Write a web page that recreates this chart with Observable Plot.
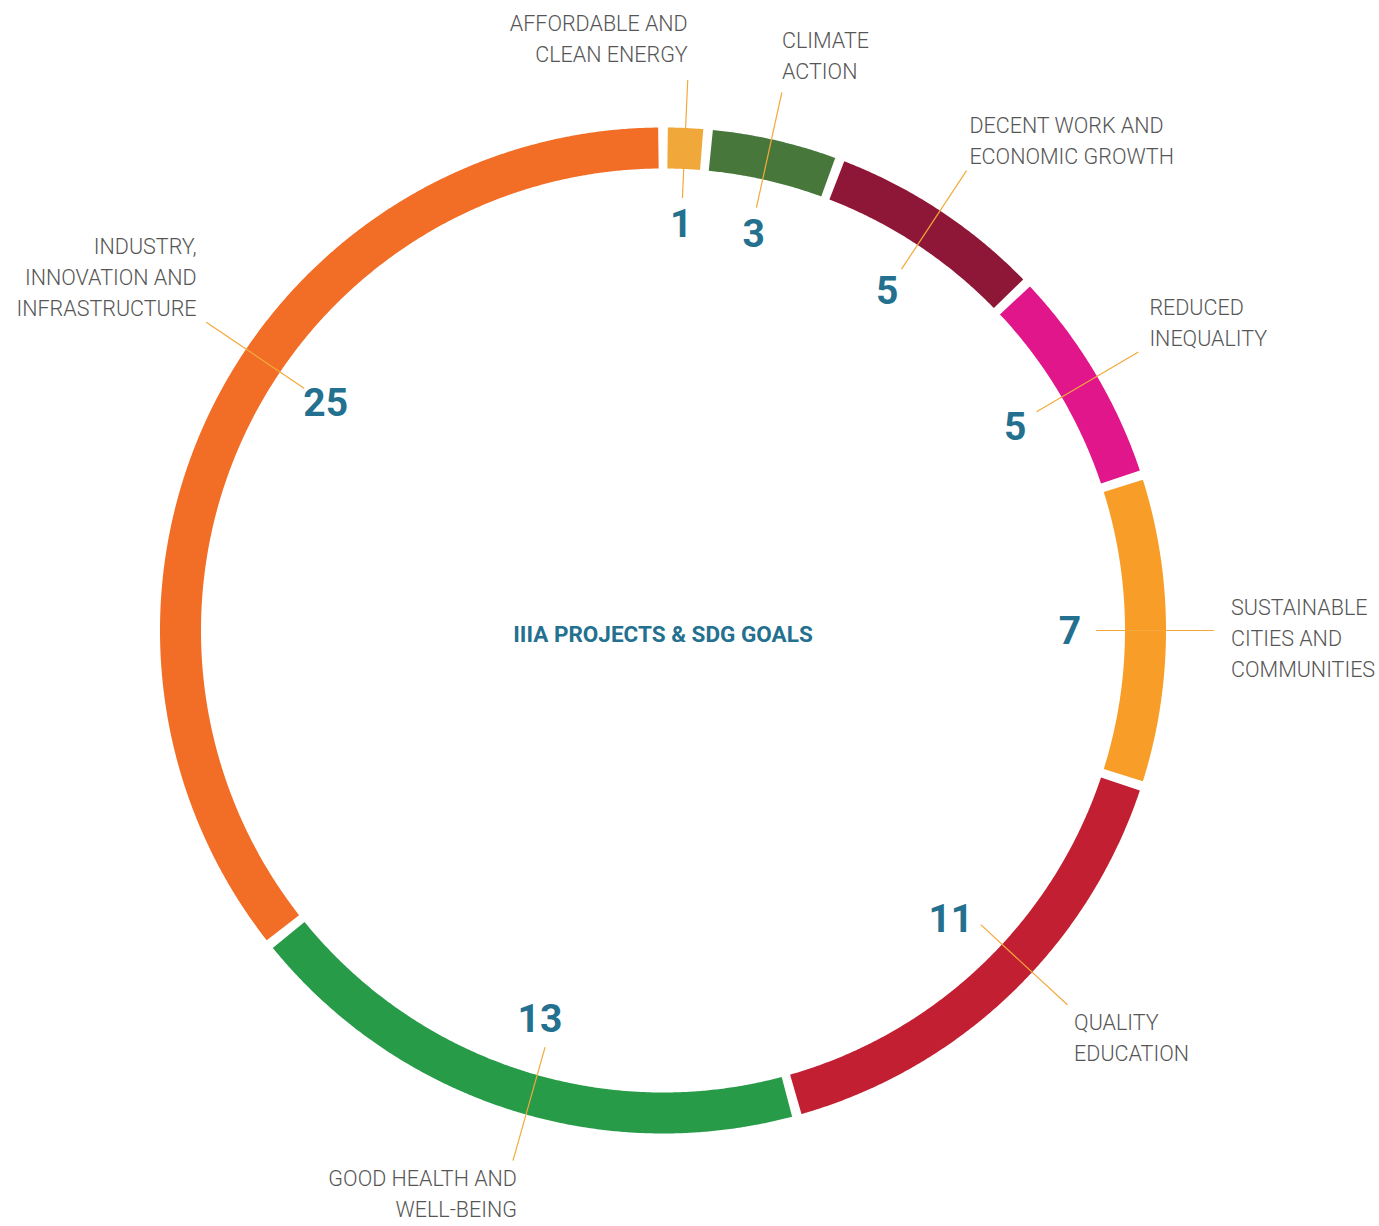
<!DOCTYPE html>
<html>
<head>
<meta charset="utf-8">
<script src="https://cdn.jsdelivr.net/npm/d3@7"></script>
<script src="https://cdn.jsdelivr.net/npm/@observablehq/plot@0.6"></script>
<style>
  html, body { margin: 0; padding: 0; background: #ffffff; }
  #chart svg { display: block; }
</style>
</head>
<body>
<div id="chart"></div>
<script>
// ---- data ----
const categories = [
  "AFFORDABLE AND\nCLEAN ENERGY",
  "CLIMATE\nACTION",
  "DECENT WORK AND\nECONOMIC GROWTH",
  "REDUCED\nINEQUALITY",
  "SUSTAINABLE\nCITIES AND\nCOMMUNITIES",
  "QUALITY\nEDUCATION",
  "GOOD HEALTH AND\nWELL-BEING",
  "INDUSTRY,\nINNOVATION AND\nINFRASTRUCTURE"
];
const values = [1, 3, 5, 5, 7, 11, 13, 25];
const colors = ["#F0A83A", "#48773C", "#8E1737", "#E0168A", "#F89D28", "#C21F32", "#279B48", "#F26D26"];
const title = "IIIA PROJECTS & SDG GOALS";
// small angular nudges (degrees) applied to label/leader and number placement only
const labelNudge = [0, -0.4, 0, 0.5, 0, -3.5, -2.2, 8.3];
const numberNudge = [0, 0, 0, 0.8, 0, -1.3, -0.4, 8.3];

// ---- layout constants ----
const W = 1379, H = 1226;
const cx = 662.5, cy = 630;
const rOuter = 503, rInner = 462;
const rMid = (rOuter + rInner) / 2;
const ringWidth = rOuter - rInner;
const halfGap = 4.6 / rMid; // radians
const rLeadIn = 433, rLeadOut = 551, rNum = 407;
const deg = Math.PI / 180;

const total = d3.sum(values);
const ends = d3.cumsum(values);
const segs = values.map((v, i) => {
  const a0 = (ends[i] - v) / total * 2 * Math.PI;
  const a1 = ends[i] / total * 2 * Math.PI;
  const mid = (a0 + a1) / 2;
  return {cat: categories[i], value: v, a0, a1, mid, la: mid + labelNudge[i] * deg, na: mid + numberNudge[i] * deg};
});

// arc sample points, derived from the data
const arcPts = [];
segs.forEach((s) => {
  const s0 = s.a0 + halfGap, s1 = s.a1 - halfGap;
  const n = Math.max(2, Math.ceil((s1 - s0) / (0.25 * deg)) + 1);
  for (let k = 0; k < n; k++) {
    const a = s0 + (s1 - s0) * k / (n - 1);
    arcPts.push({cat: s.cat, x: rMid * Math.sin(a), y: -rMid * Math.cos(a)});
  }
});

const px = (r, a) => r * Math.sin(a);
const py = (r, a) => -r * Math.cos(a);

const labelMarks = segs.map((s) => {
  const sn = Math.sin(s.la), cs = Math.cos(s.la);
  const side = Math.abs(sn) > 0.97;
  const textAnchor = sn < 0.1 ? "end" : "start";
  let lineAnchor, dy;
  if (side) { lineAnchor = "middle"; dy = 6; }
  else if (cs > 0) { lineAnchor = "bottom"; dy = -(6 + 12 * Math.pow(cs, 20)); }
  else { lineAnchor = "top"; dy = 3; }
  const dx = textAnchor === "end" && cs < 0 ? 4 : 17 * sn * sn * sn;
  return Plot.text([s], {
    x: d => px(rLeadOut, d.la), y: d => py(rLeadOut, d.la),
    text: "cat", textAnchor, lineAnchor, dx, dy,
    lineHeight: 1.44, fontSize: 21.5, fontWeight: 300, fill: "#565656"
  });
});

const chart = Plot.plot({
  width: W, height: H,
  margin: 0,
  x: {domain: [-cx, W - cx], range: [0, W], axis: null},
  y: {domain: [-cy, H - cy], range: [0, H], axis: null},
  color: {domain: categories, range: colors},
  style: {fontFamily: "Roboto, 'Open Sans', sans-serif", background: "#ffffff"},
  marks: [
    Plot.line(arcPts, {x: "x", y: "y", z: "cat", stroke: "cat", strokeWidth: ringWidth, strokeLinecap: "butt", strokeLinejoin: "round", curve: "linear"}),
    Plot.link(segs, {
      x1: d => px(rLeadIn, d.la), y1: d => py(rLeadIn, d.la),
      x2: d => px(rLeadOut, d.la), y2: d => py(rLeadOut, d.la),
      stroke: "#F3A93B", strokeWidth: 1.2
    }),
    Plot.text(segs, {
      x: d => px(rNum, d.na), y: d => py(rNum, d.na),
      text: d => String(d.value), fontSize: 39, fontWeight: 700, fill: "#24708F", dy: 1
    }),
    ...labelMarks,
    Plot.text([title], {x: () => 0, y: () => 0, text: d => d, fontSize: 22.5, fontWeight: 700, fill: "#24708F", dy: 4})
  ]
});
document.getElementById("chart").appendChild(chart);
</script>
</body>
</html>
